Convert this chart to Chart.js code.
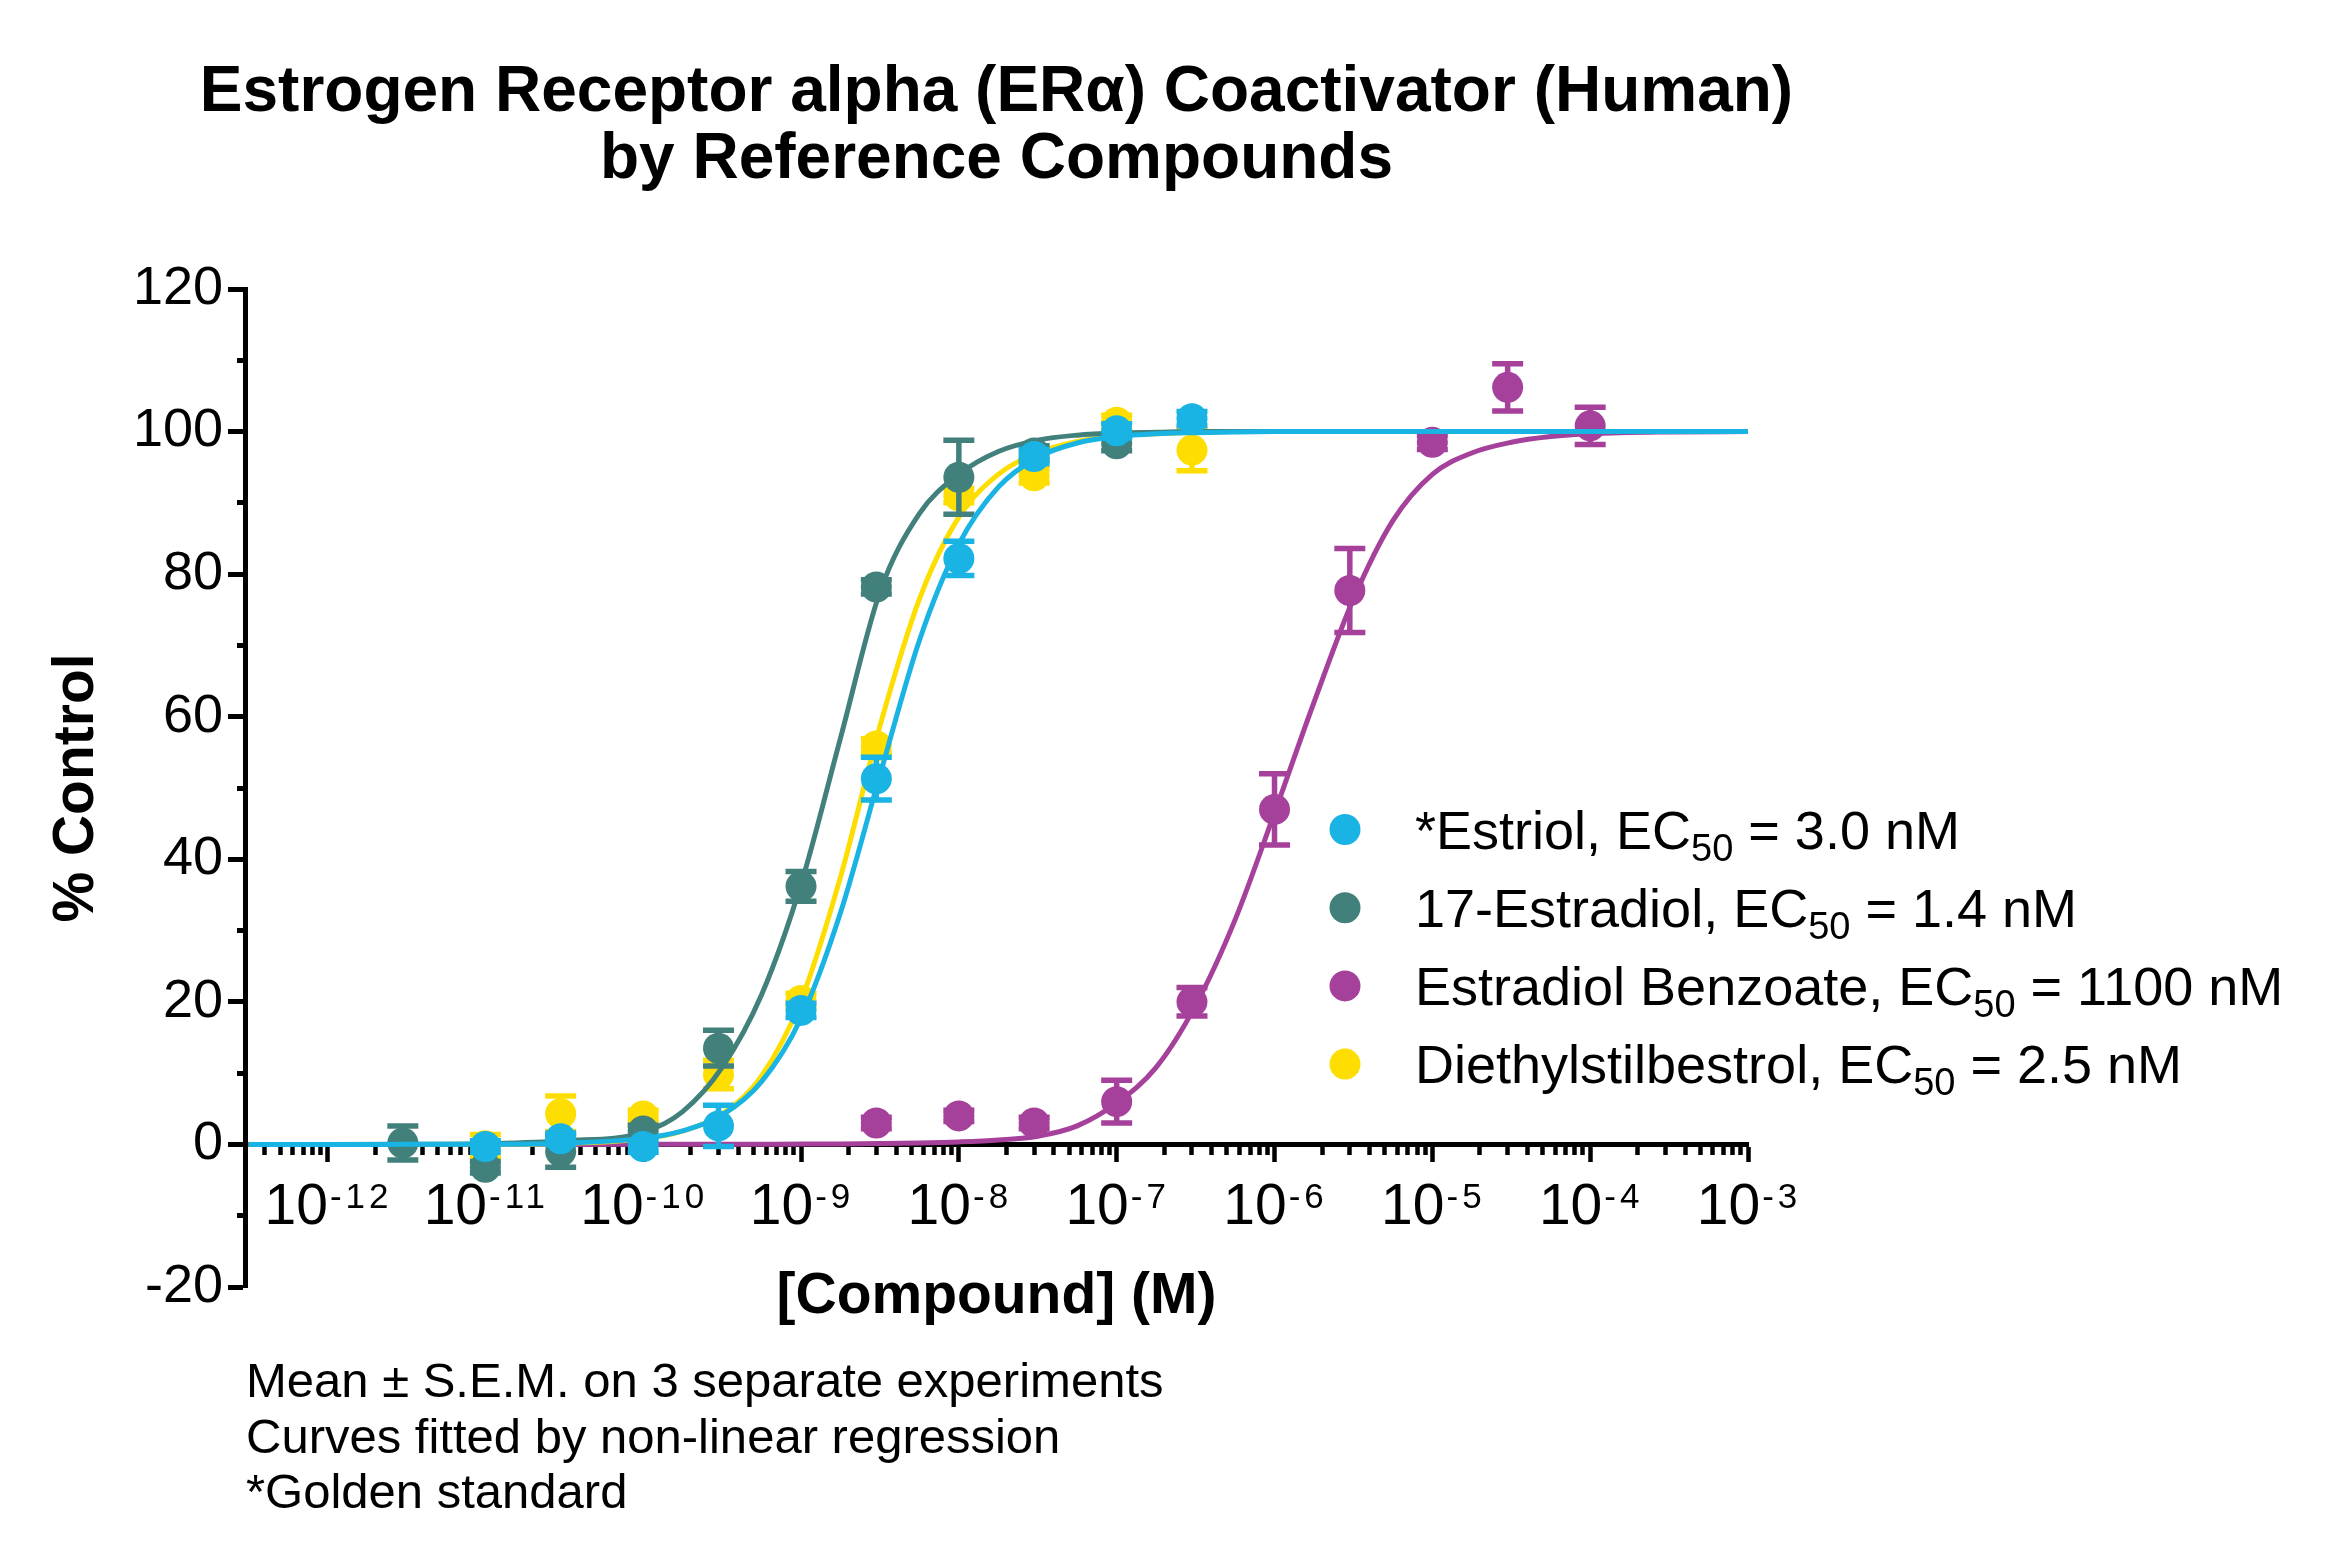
<!DOCTYPE html>
<html>
<head>
<meta charset="utf-8">
<script src="https://cdn.jsdelivr.net/npm/chart.js@4.4.1/dist/chart.umd.min.js"></script>
<style>
html,body{margin:0;padding:0;background:#ffffff;}
canvas{display:block;}
</style>
</head>
<body>
<canvas id="c" width="2329" height="1566"></canvas>
<script>
// ---------------- text ----------------
const titleLines = ['Estrogen Receptor alpha (ER\u03B1) Coactivator (Human)', 'by Reference Compounds'];
const xAxisTitle = '[Compound] (M)';
const yAxisTitle = '% Control';
const footnotes = ['Mean \u00B1 S.E.M. on 3 separate experiments', 'Curves fitted by non-linear regression', '*Golden standard'];

// ---------------- series ----------------
const seriesNames = ['*Estriol', '17-Estradiol', 'Estradiol Benzoate', 'Diethylstilbestrol'];
const ec50Labels = ['3.0 nM', '1.4 nM', '1100 nM', '2.5 nM'];
const seriesColors = ['#19b3e4', '#42807c', '#a6419b', '#fedd00'];

// measured points (concentration in M, mean % control, S.E.M.)
const estriolConc = [1e-11, 3e-11, 1e-10, 3e-10, 1e-9, 3e-9, 1e-8, 3e-8, 1e-7, 3e-7];
const estriolMean = [-0.3, 0.8, -0.3, 2.6, 18.8, 51.3, 82.2, 96.5, 100.1, 101.8];
const estriolSem  = [0.8, 0.8, 0.8, 2.9, 1.0, 3.0, 2.4, 1.0, 1.0, 1.0];

const estradiolConc = [3e-12, 1e-11, 3e-11, 1e-10, 3e-10, 1e-9, 3e-9, 1e-8, 3e-8, 1e-7];
const estradiolMean = [0.2, -3.2, -1.0, 1.9, 13.5, 36.2, 78.2, 93.6, 97.0, 98.3];
const estradiolSem  = [2.4, 0.8, 2.2, 0.8, 2.5, 2.1, 1.0, 5.2, 1.0, 1.0];

const benzoateConc = [3e-9, 1e-8, 3e-8, 1e-7, 3e-7, 1e-6, 3e-6, 1e-5, 3e-5, 1e-4];
const benzoateMean = [3.0, 4.0, 3.0, 6.0, 20.0, 47.0, 77.7, 98.5, 106.2, 100.8];
const benzoateSem  = [0.8, 0.8, 0.8, 3.0, 2.0, 5.0, 5.9, 1.0, 3.3, 2.6];

const desConc = [1e-11, 3e-11, 1e-10, 3e-10, 1e-9, 3e-9, 1e-8, 3e-8, 1e-7, 3e-7];
const desMean = [-0.2, 4.3, 4.0, 9.8, 20.2, 55.9, 91.0, 93.8, 101.3, 97.4];
const desSem  = [1.6, 2.5, 0.8, 2.0, 1.0, 1.0, 1.0, 1.0, 1.0, 2.9];

// fitted curves (x as log10 of concentration)
const curveLogX = [-12.5,-12,-11.5,-11,-10.5,-10,-9.75,-9.5,-9.25,-9,-8.75,-8.5,-8.25,-8,-7.75,-7.5,-7.25,-7,-6.75,-6.5,-6.25,-6,-5.75,-5.5,-5.25,-5,-4.75,-4.5,-4.25,-4,-3.5,-3];
const estriolFit   = [0,0,0.01,0.03,0.17,0.85,1.9,4.1,8.8,17.7,32.5,51.8,70.7,84.2,92.2,96.4,98.4,99.3,99.7,99.85,99.95,100,100,100,100,100,100,100,100,100,100,100];
const estradiolFit = [0,0,0.02,0.1,0.5,1.7,4.6,10.8,21,36.5,57,77.5,88.5,94,97.2,98.8,99.5,99.8,99.9,100,100,100,100,100,100,100,100,100,100,100,100,100];
const benzoateFit  = [0,0,0,0,0,0.01,0.01,0.02,0.03,0.05,0.07,0.12,0.2,0.35,0.62,1.15,2.6,5.8,10.8,19.5,31.5,46.5,62,76.5,87.5,94,97,98.5,99.3,99.7,99.95,100];
const desFit       = [0,0,0,0.03,0.14,0.79,1.87,4.3,9.6,20.2,37.5,58.7,76.5,88,94,97,98.6,99.4,99.7,99.9,100,100,100,100,100,100,100,100,100,100,100,100];

// ---------------- axes ----------------
const xMinExp = -12.5, xMaxExp = -3;
const xLabelExps = [-12, -11, -10, -9, -8, -7, -6, -5, -4, -3];
const xTickMultipliers = [1, 2, 3, 4, 5, 6, 7, 8, 9];
const yMin = -20, yMax = 120, yStep = 10, yLabelStep = 20;

const FONT = "'Liberation Sans', Arial, Helvetica, sans-serif";

const groups = [
  {conc: estriolConc, mean: estriolMean, sem: estriolSem, fit: estriolFit},
  {conc: estradiolConc, mean: estradiolMean, sem: estradiolSem, fit: estradiolFit},
  {conc: benzoateConc, mean: benzoateMean, sem: benzoateSem, fit: benzoateFit},
  {conc: desConc, mean: desMean, sem: desSem, fit: desFit}
];
// stacking: cyan on top, then teal, yellow, magenta at bottom
const stackRank = [0, 1, 3, 2];

const datasets = [];
groups.forEach((g, i) => {
  const col = seriesColors[i];
  datasets.push({
    type: 'scatter',
    label: seriesNames[i],
    data: g.conc.map((c, k) => ({x: c, y: g.mean[k]})),
    sem: g.sem,
    backgroundColor: col,
    borderColor: col,
    pointRadius: 15.5,
    pointHoverRadius: 15.5,
    pointBorderWidth: 0,
    showLine: false,
    order: stackRank[i] * 2
  });
  datasets.push({
    type: 'line',
    label: seriesNames[i] + ' fit',
    data: curveLogX.map((e, k) => ({x: Math.pow(10, e), y: g.fit[k]})),
    borderColor: col,
    backgroundColor: col,
    borderWidth: 5,
    pointRadius: 0,
    pointHoverRadius: 0,
    fill: false,
    cubicInterpolationMode: 'monotone',
    order: stackRank[i] * 2 + 1
  });
});

const errorBarPlugin = {
  id: 'errorBars',
  beforeDatasetDraw(chart, args) {
    const ds = chart.data.datasets[args.index];
    if (!ds.sem) return;
    const xs = chart.scales.x, ys = chart.scales.y, ctx = chart.ctx;
    ctx.save();
    ctx.strokeStyle = ds.backgroundColor;
    ctx.lineWidth = 5.5;
    ctx.lineCap = 'butt';
    ds.data.forEach((p, i) => {
      const s = ds.sem[i];
      if (!s) return;
      const px = xs.getPixelForValue(p.x);
      const yt = ys.getPixelForValue(p.y + s);
      const yb = ys.getPixelForValue(p.y - s);
      ctx.beginPath();
      ctx.moveTo(px, yt); ctx.lineTo(px, yb);
      ctx.moveTo(px - 15.5, yt); ctx.lineTo(px + 15.5, yt);
      ctx.moveTo(px - 15.5, yb); ctx.lineTo(px + 15.5, yb);
      ctx.stroke();
    });
    ctx.restore();
  }
};

const textPlugin = {
  id: 'texts',
  afterDraw(chart) {
    const ctx = chart.ctx, area = chart.chartArea;
    const xs = chart.scales.x, ys = chart.scales.y;
    ctx.save();
    ctx.fillStyle = '#000';
    ctx.textBaseline = 'alphabetic';

    // title
    const cx = (area.left + area.right) / 2;
    ctx.textAlign = 'center';
    ctx.font = 'bold 64px ' + FONT;
    ctx.fillText(titleLines[0], cx, 111);
    ctx.fillText(titleLines[1], cx, 178);

    // x tick labels with superscript exponents
    const y0 = ys.getPixelForValue(0);
    ctx.textAlign = 'left';
    xLabelExps.forEach(e => {
      const px = xs.getPixelForValue(Math.pow(10, e));
      ctx.font = '57px ' + FONT;
      ctx.letterSpacing = '0px';
      const w1 = ctx.measureText('10').width;
      ctx.font = '35px ' + FONT;
      ctx.letterSpacing = '4px';
      const w2 = ctx.measureText(String(e)).width;
      const start = px - (w1 + w2) / 2;
      ctx.font = '57px ' + FONT;
      ctx.letterSpacing = '0px';
      ctx.fillText('10', start, y0 + 80);
      ctx.font = '35px ' + FONT;
      ctx.letterSpacing = '4px';
      ctx.fillText(String(e), start + w1 + 2, y0 + 64);
    });
    ctx.letterSpacing = '0px';

    // legend
    const legX = 1345, legTextX = 1415, legY0 = 829.5, legStep = 78.2;
    seriesNames.forEach((name, i) => {
      const cy = legY0 + i * legStep;
      ctx.fillStyle = seriesColors[i];
      ctx.beginPath();
      ctx.arc(legX, cy, 15.5, 0, Math.PI * 2);
      ctx.fill();
      ctx.fillStyle = '#000';
      const base = cy + 19.3;
      let x = legTextX;
      ctx.font = '54px ' + FONT;
      const part1 = name + ', EC';
      ctx.fillText(part1, x, base);
      x += ctx.measureText(part1).width;
      ctx.font = '38px ' + FONT;
      ctx.fillText('50', x, base + 12);
      x += ctx.measureText('50').width;
      ctx.font = '54px ' + FONT;
      ctx.fillText(' = ' + ec50Labels[i], x, base);
    });

    // footnotes
    ctx.font = '49px ' + FONT;
    ctx.textAlign = 'left';
    const footY = [1397, 1453, 1508];
    footnotes.forEach((t, i) => ctx.fillText(t, 246, footY[i]));
    ctx.restore();
  }
};

new Chart(document.getElementById('c'), {
  type: 'scatter',
  data: {datasets},
  plugins: [errorBarPlugin, textPlugin],
  options: {
    responsive: false,
    animation: false,
    events: [],
    layout: {padding: {left: 35, right: 581, top: 289, bottom: 279}},
    plugins: {legend: {display: false}, tooltip: {enabled: false}, title: {display: false}},
    scales: {
      x: {
        type: 'logarithmic',
        position: {y: 0},
        min: Math.pow(10, xMinExp),
        max: Math.pow(10, xMaxExp),
        afterBuildTicks(scale) {
          const t = [];
          const lo = Math.pow(10, xMinExp) * 0.9999, hi = Math.pow(10, xMaxExp) * 1.0001;
          for (let e = Math.floor(xMinExp); e <= xMaxExp; e++) {
            xTickMultipliers.forEach(m => {
              const v = m * Math.pow(10, e);
              if (v >= lo && v <= hi) t.push({value: v, major: m === 1});
            });
          }
          scale.ticks = t;
        },
        afterFit(scale) { scale.height = 200; },
        border: {display: true, color: '#000', width: 5},
        grid: {
          display: true, drawOnChartArea: false, drawTicks: true,
          tickLength: 15, tickWidth: 4.5, color: '#000', tickColor: '#000',
          tickBorderDash: (c) => (c.tick && c.tick.major) ? [] : [8, 100]
        },
        ticks: {display: false, autoSkip: false},
        title: {display: true, text: xAxisTitle, color: '#000',
          font: {family: FONT, size: 57, weight: 'bold'}, padding: {top: 0, bottom: 13}}
      },
      y: {
        type: 'linear',
        position: 'left',
        min: yMin, max: yMax,
        afterFit(scale) { scale.width = 210; },
        border: {display: true, color: '#000', width: 5},
        grid: {
          display: true, drawOnChartArea: false, drawTicks: true,
          tickLength: 17, tickWidth: 5, color: '#000', tickColor: '#000',
          tickBorderDash: (c) => (c.tick && c.tick.value % yLabelStep !== 0) ? [0, 9, 100, 0] : []
        },
        ticks: {
          stepSize: yStep, autoSkip: false, padding: 5, color: '#000',
          font: {family: FONT, size: 54},
          callback: (v) => (v % yLabelStep === 0 ? String(v) : '')
        },
        title: {display: true, text: yAxisTitle, color: '#000',
          font: {family: FONT, size: 57, weight: 'bold'}, padding: {top: 8, bottom: 0}}
      }
    }
  }
});
</script>
</body>
</html>
